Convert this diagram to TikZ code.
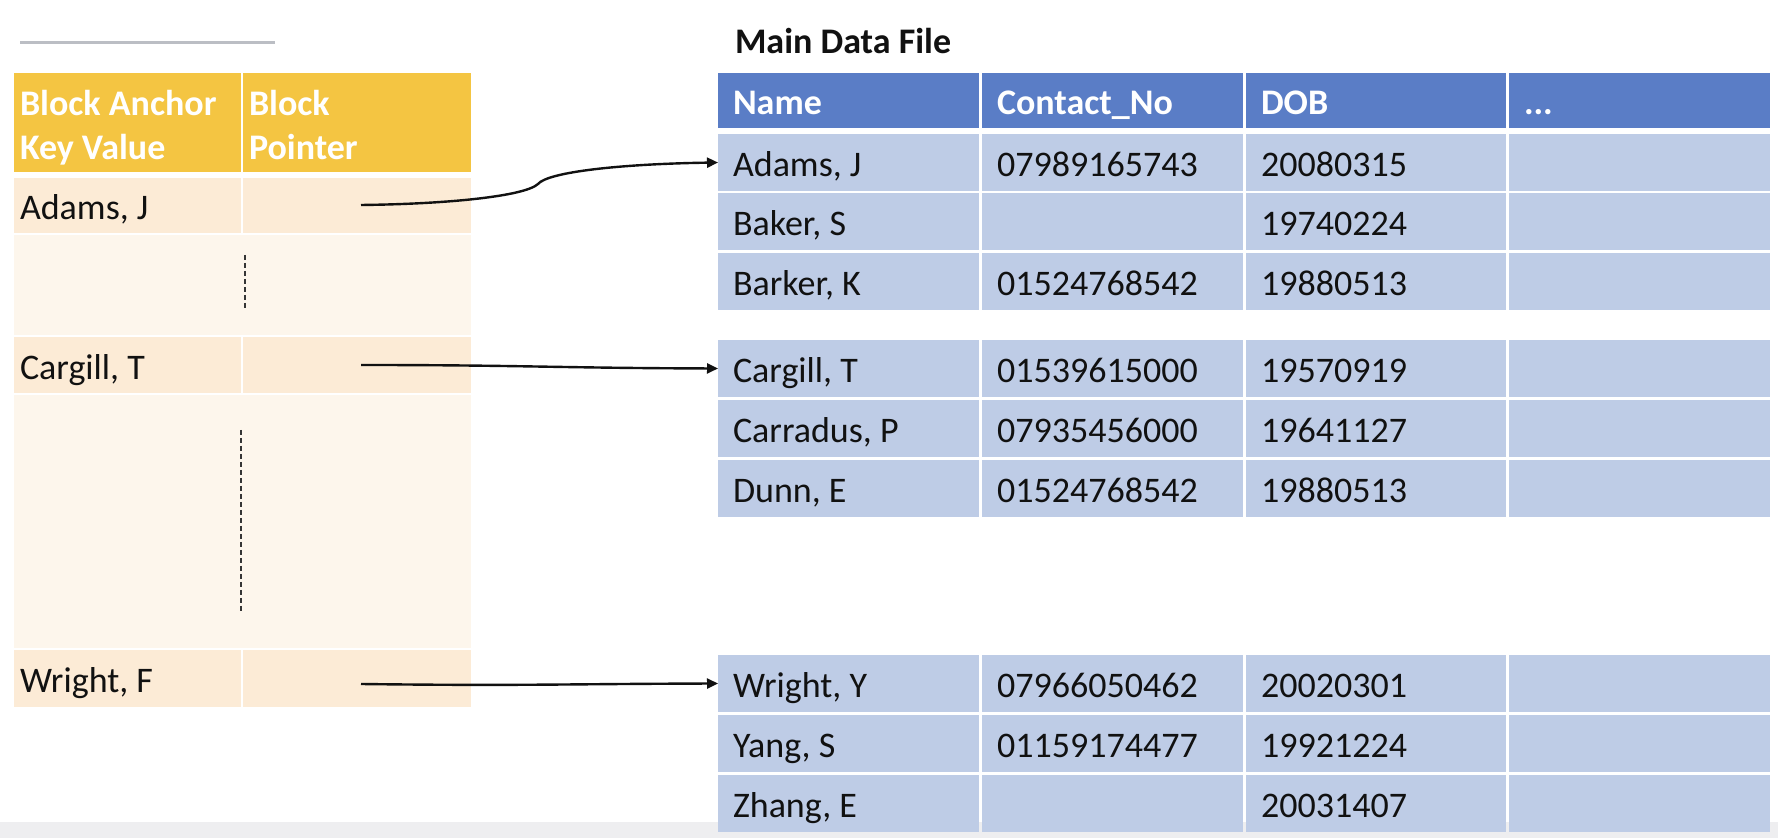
\documentclass[tikz,border=0pt]{standalone}
\usepackage{fontspec}
\setmainfont{Carlito}
\usetikzlibrary{arrows.meta,fit}
\definecolor{gold}{HTML}{F4C542}
\definecolor{peach}{HTML}{FCEBD6}
\definecolor{peachlt}{HTML}{FDF6EC}
\definecolor{bluehead}{HTML}{5A7DC6}
\definecolor{rowblue}{HTML}{BECCE6}
\definecolor{rulegray}{HTML}{BBBEC4}
\definecolor{bandgray}{HTML}{EEEEF0}
\definecolor{ink}{HTML}{111111}
\newcommand\cellbox[6]{\node[cell,fill=#6,fit={(#2,#3) (#4,#5)}] (#1) {};}
\newcommand\drow[6]{%
  \cellbox{#1a}{718}{#2}{979}{#3}{rowblue}
  \cellbox{#1b}{982}{#2}{1243}{#3}{rowblue}
  \cellbox{#1c}{1246}{#2}{1506}{#3}{rowblue}
  \cellbox{#1d}{1509}{#2}{1770}{#3}{rowblue}
  \node[txt] (#1at) at ([xshift=7.5pt,yshift=-7.25pt]#1a.west) {#4};
  \node[txt] (#1bt) at ([xshift=7.5pt,yshift=-7.25pt]#1b.west) {#5};
  \node[txt] (#1ct) at ([xshift=7.5pt,yshift=-7.25pt]#1c.west) {#6};
}
\begin{document}
\begin{tikzpicture}[x=0.5pt,y=-0.5pt,
  font=\fontsize{18pt}{22pt}\selectfont,
  cell/.style={inner sep=0pt,outer sep=0pt,draw=none},
  txt/.style={anchor=base west,inner sep=0pt,outer sep=0pt,text=ink},
  htxt/.style={txt,font=\fontsize{18pt}{22pt}\selectfont\bfseries,text=white},
  conn/.style={line width=1.2pt,draw=ink,-{Triangle[length=5.5pt,width=5pt]}},
  gapline/.style={line width=1pt,draw=ink!85,dash pattern=on 2.5pt off 1.5pt}]
% background and margins
\fill[white] (0,0) rectangle (1778,838);
\useasboundingbox (0,0) rectangle (1778,838);
\fill[bandgray] (0,822) rectangle (1778,838);
\draw[rulegray,line width=1.5pt] (20,43) -- (275,43);

% ---------- left index table ----------
\cellbox{lh1}{14}{73}{241}{172}{gold}
\cellbox{lh2}{243}{73}{471}{172}{gold}
\node[htxt] (lh1a) at (20,116) {Block Anchor};
\node[htxt] (lh1b) at (20,160) {Key Value};
\node[htxt] (lh2a) at (249,116) {Block};
\node[htxt] (lh2b) at (249,160) {Pointer};

\cellbox{k1}{14}{178}{241}{233}{peach}
\cellbox{p1}{243}{178}{471}{233}{peach}
\cellbox{gap1}{14}{235}{471}{335}{peachlt}
\cellbox{k2}{14}{337}{241}{393}{peach}
\cellbox{p2}{243}{337}{471}{393}{peach}
\cellbox{gap2}{14}{395}{471}{648}{peachlt}
\cellbox{k3}{14}{650}{241}{707}{peach}
\cellbox{p3}{243}{650}{471}{707}{peach}

\node[txt] (k1t) at (20,220) {Adams, J};
\node[txt] (k2t) at (20,379.5) {Cargill, T};
\node[txt] (k3t) at (20,693) {Wright, F};

\draw[gapline] (245,255) -- (245,311);
\draw[gapline] (241,430) -- (241,613);

% ---------- main data file ----------
\node[txt,font=\fontsize{18pt}{22pt}\selectfont\bfseries] (title) at (735,54) {Main Data File};

\cellbox{ha}{718}{73}{979}{128}{bluehead}
\cellbox{hb}{982}{73}{1243}{128}{bluehead}
\cellbox{hc}{1246}{73}{1506}{128}{bluehead}
\cellbox{hd}{1509}{73}{1770}{128}{bluehead}
\node[htxt] (hat) at ([xshift=7.5pt,yshift=-7.25pt]ha.west) {Name};
\node[htxt] (hbt) at ([xshift=7.5pt,yshift=-7.25pt]hb.west) {Contact\_No};
\node[htxt] (hct) at ([xshift=7.5pt,yshift=-7.25pt]hc.west) {DOB};
\node[htxt] (hdt) at ([xshift=7.5pt,yshift=-7.25pt]hd.west) {...};

\drow{ra}{134}{191}{Adams, J}{07989165743}{20080315}
\drow{rb}{193}{250}{Baker, S}{}{19740224}
\drow{rc}{253}{310}{Barker, K}{01524768542}{19880513}
\drow{rd}{340}{397}{Cargill, T}{01539615000}{19570919}
\drow{re}{400}{457}{Carradus, P}{07935456000}{19641127}
\drow{rf}{460}{517}{Dunn, E}{01524768542}{19880513}
\drow{rg}{655}{712}{Wright, Y}{07966050462}{20020301}
\drow{rh}{715}{772}{Yang, S}{01159174477}{19921224}
\drow{ri}{775}{832}{Zhang, E}{}{20031407}

% ---------- block pointers ----------
\coordinate (s1) at (361,205);
\coordinate (s2) at (361,365);
\coordinate (s3) at (361,684);
\coordinate (m1) at (538,184);
\draw[conn] (s1) .. controls (450,204) and (525,196) .. (m1)
  .. controls (548,172) and (620,164) .. (raa.west);
\draw[conn] (s2) .. controls (520,365) and (560,368) .. (rda.west);
\draw[conn] (s3) .. controls (520,686) and (560,684) .. (rga.west);
\end{tikzpicture}
\end{document}
